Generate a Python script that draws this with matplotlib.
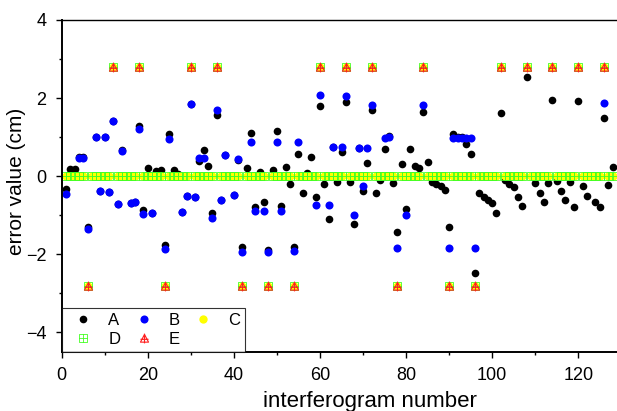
import matplotlib
matplotlib.use("Agg")
import matplotlib.pyplot as plt
import numpy as np
from matplotlib.path import Path

plt.rcParams['font.family'] = ['Liberation Sans', 'DejaVu Sans']

# interferogram number 1..128
n = np.arange(1, 129)

# error values (None = not visible)
a_vals = [-0.34, 0.18, 0.18, 0.48, 0.48, -1.30, None, 1.01, -0.37, 1.01,
          -0.40, 1.42, -0.72, 0.67, None, -0.68, -0.65, 1.28, -0.87, 0.20,
          -0.95, 0.13, 0.16, -1.76, 1.09, 0.16, 0.06, -0.92, -0.51, 1.86,
          -0.54, 0.40, 0.67, 0.26, -0.95, 1.57, -0.60, 0.54, None, -0.48,
          0.42, -1.82, 0.20, 1.10, -0.80, 0.12, -0.65, -1.90, 0.16, 1.16,
          -0.76, 0.24, -0.20, -1.80, 0.57, -0.44, 0.07, 0.48, -0.52, 1.80,
          -0.20, -1.10, 0.75, -0.14, 0.61, 1.91, -0.16, -1.23, 0.73, -0.37,
          0.33, 1.69, -0.42, -0.10, 0.69, 1.04, -0.17, -1.43, 0.31, -0.84,
          0.70, 0.26, 0.20, 1.65, 0.37, -0.15, -0.20, -0.26, -0.35, -1.29,
          1.08, 1.00, 1.00, 0.82, 0.57, -2.49, -0.44, -0.52, -0.60, -0.68,
          -0.95, 1.61, -0.10, -0.20, -0.28, -0.52, -0.76, 2.53, None, -0.18,
          -0.44, -0.67, -0.18, 1.95, -0.12, -0.37, -0.61, -0.14, -0.80, 1.92,
          -0.25, -0.50, None, -0.67, -0.78, 1.49, -0.22, 0.24]

b_vals = [-0.46, None, None, 0.46, 0.46, -1.34, None, 1.01, -0.37, 1.01,
          -0.40, 1.42, -0.72, 0.65, None, -0.68, -0.65, 1.20, -0.98, None,
          -0.95, None, None, -1.86, 0.96, None, None, -0.92, -0.51, 1.84,
          -0.54, 0.47, 0.47, None, -1.08, 1.69, -0.60, 0.54, None, -0.48,
          0.44, -1.93, None, 0.88, -0.89, None, -0.89, -1.93, None, 0.88,
          -0.89, None, None, -1.92, 0.88, None, None, None, -0.74, 2.08,
          None, -0.74, 0.75, None, 0.75, 2.06, None, -0.99, 0.73, -0.25,
          0.73, 1.82, None, None, 0.99, 1.00, None, -1.85, None, -1.00,
          None, None, None, 1.82, None, None, None, None, None, -1.85,
          0.99, 0.99, 0.99, 0.99, 0.99, -1.85, None, None, None, None,
          None, None, None, None, None, None, None, None, None, None,
          None, None, None, None, None, None, None, None, None, None,
          None, None, None, None, None, 1.87, None, None]

a_vals = np.array(a_vals, dtype=float)
b_vals = np.array(b_vals, dtype=float)

# C and D sit on zero except at the calibration numbers, E only at those
up_pos = [12, 18, 30, 36, 60, 66, 72, 84, 102, 108, 114, 120, 126]
down_pos = [6, 24, 42, 48, 54, 78, 90, 96]
ref_vals = np.zeros(len(n))
ref_vals[np.array(up_pos) - 1] = 2.8
ref_vals[np.array(down_pos) - 1] = -2.8
e_vals = np.where(ref_vals != 0, ref_vals, np.nan)

# open square with a cross, and triangle with a cross
sq_cross = Path([(-1, -1), (1, -1), (1, 1), (-1, 1), (-1, -1),
                 (-1, 0), (1, 0), (0, -1), (0, 1)],
                [Path.MOVETO, Path.LINETO, Path.LINETO, Path.LINETO, Path.CLOSEPOLY,
                 Path.MOVETO, Path.LINETO, Path.MOVETO, Path.LINETO])
tri_cross = Path([(-1, -0.9), (1, -0.9), (0, 1), (-1, -0.9),
                  (-1, -0.2), (1, -0.2), (0, -1.2), (0, 1.2)],
                 [Path.MOVETO, Path.LINETO, Path.LINETO, Path.CLOSEPOLY,
                  Path.MOVETO, Path.LINETO, Path.MOVETO, Path.LINETO])

fig = plt.figure(figsize=(6.17, 4.11), dpi=100)
ax = fig.add_axes([0.1, 0.1436, 0.907, 0.8078])

hA, = ax.plot(n, a_vals, 'o', color='black', ms=5.5, mew=0, label='A', clip_on=False)
hB, = ax.plot(n, b_vals, 'o', color='#0000ff', ms=5.8, mew=0, label='B', clip_on=False)
hC, = ax.plot(n, ref_vals, 'o', color='#ffff00', ms=6.0, mew=0, label='C')
hD, = ax.plot(n, ref_vals, ls='none', marker=sq_cross, mfc='none', mec='#44ff22',
              ms=5.5, mew=0.6, label='D')
hE, = ax.plot(n, e_vals, ls='none', marker=tri_cross, mfc='none', mec='#ff2020',
              ms=7, mew=0.8, label='E')

ax.set_xlim(0, 130)
ax.set_ylim(-4.5, 4)
ax.set_xticks([0, 20, 40, 60, 80, 100, 120])
ax.set_xticks(np.arange(10, 130, 20), minor=True)
ax.set_yticks([-4, -2, 0, 2, 4])
ax.set_yticks([-3, -1, 1, 3], minor=True)
ax.tick_params(which='major', direction='out', length=4, width=1, labelsize=13, pad=7)
ax.tick_params(which='minor', direction='out', length=2.5, width=1)
for s in ['left', 'bottom']:
    ax.spines[s].set_linewidth(1.4)
ax.spines['top'].set_linewidth(1.0)
ax.spines['right'].set_visible(False)

ax.set_xlabel('interferogram number', fontsize=16)
ax.set_ylabel('error value (cm)', fontsize=15)
ax.xaxis.set_label_coords(0.551, -0.117)
ax.yaxis.set_label_coords(-0.064, 0.515)

leg = ax.legend([hA, hD, hB, hE, hC], ['A', 'D', 'B', 'E', 'C'], ncol=3,
                loc='lower left', bbox_to_anchor=(0, 0), borderaxespad=0,
                fontsize=12, frameon=True, fancybox=False, edgecolor='black',
                handlelength=2.0, handletextpad=0.5, columnspacing=0.4,
                labelspacing=0.25, borderpad=0.3)
leg.get_frame().set_linewidth(0.8)

fig.savefig('out.png', dpi=100)
